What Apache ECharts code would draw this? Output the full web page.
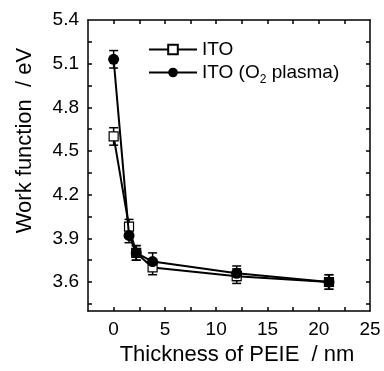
<!DOCTYPE html>
<html>
<head>
<meta charset="utf-8">
<script src="https://cdn.jsdelivr.net/npm/echarts@6/dist/echarts.min.js"></script>
<style>
  html, body { margin: 0; padding: 0; background: #fff; }
  #main { width: 384px; height: 371px; }
</style>
</head>
<body>
<div id="main"></div>
<script>
// data
var thickness = [0, 1.5, 2.2, 3.8, 12, 21];
var itoWF = [4.6, 3.98, 3.8, 3.7, 3.64, 3.6];
var itoErr = [0.06, 0.05, 0.05, 0.05, 0.05, 0.05];
var plasmaWF = [5.13, 3.92, 3.8, 3.74, 3.66, 3.6];
var plasmaErr = [0.06, 0.05, 0.05, 0.06, 0.05, 0.05];

var xTickLabels = [0, 5, 10, 15, 20, 25];
var xTicks = [0, 2.5, 5, 7.5, 10, 12.5, 15, 17.5, 20, 22.5];
var yTickLabels = [3.6, 3.9, 4.2, 4.5, 4.8, 5.1, 5.4];
var yTicks = [3.45, 3.6, 3.75, 3.9, 4.05, 4.2, 4.35, 4.5, 4.65, 4.8, 4.95, 5.1, 5.25];

var FONT = "Liberation Sans";

function pairs(ys) {
  return thickness.map(function (x, i) { return [x, ys[i]]; });
}
function errData(ys, es) {
  return thickness.map(function (x, i) { return [x, ys[i] - es[i], ys[i] + es[i]]; });
}
// 误差棒
function errorBars(api) {
  var lo = api.coord([api.value(0), api.value(1)]);
  var hi = api.coord([api.value(0), api.value(2)]);
  var w = 4.5;
  var st = { stroke: "#000", lineWidth: 1.5 };
  return {
    type: "group",
    children: [
      { type: "line", shape: { x1: lo[0], y1: lo[1], x2: hi[0], y2: hi[1] }, style: st },
      { type: "line", shape: { x1: lo[0] - w, y1: lo[1], x2: lo[0] + w, y2: lo[1] }, style: st },
      { type: "line", shape: { x1: hi[0] - w, y1: hi[1], x2: hi[0] + w, y2: hi[1] }, style: st }
    ]
  };
}

var frameLine = { show: true, onZero: false, lineStyle: { color: "#000", width: 1.5 } };
var tickStyle = { color: "#000", width: 1.5 };

var myChart = echarts.init(document.getElementById("main"));
var option = {
  animation: false,
  backgroundColor: "#fff",
  textStyle: { fontFamily: FONT },
  grid: { left: 88, top: 20, right: 14, bottom: 56 },
  legend: {
    data: ["ITO", "ITO (O2 plasma)"],
    orient: "vertical",
    left: 143,
    top: 35,
    itemWidth: 48,
    itemHeight: 12,
    itemGap: 4,
    textStyle: {
      fontFamily: FONT, fontSize: 19, color: "#000",
      rich: { sub: { fontFamily: FONT, fontSize: 12, color: "#000", padding: [14, 0, 0, 0] } }
    },
    formatter: function (name) {
      return name === "ITO (O2 plasma)" ? "ITO (O{sub|2} plasma)" : name;
    }
  },
  xAxis: [
    {
      type: "value", min: -2.5, max: 25,
      name: "Thickness of PEIE  / nm", nameLocation: "middle", nameGap: 23,
      nameTextStyle: { fontFamily: FONT, fontSize: 22, color: "#000", padding: [0, 0, 0, 16] },
      axisLine: frameLine,
      axisTick: { inside: true, length: 4, customValues: xTicks, lineStyle: tickStyle },
      axisLabel: { customValues: xTickLabels, margin: 9, fontFamily: FONT, fontSize: 19, color: "#000" },
      splitLine: { show: false }
    },
    {
      type: "value", min: -2.5, max: 25, position: "top",
      axisLine: frameLine,
      axisTick: { inside: true, length: 4, customValues: xTicks, lineStyle: tickStyle },
      axisLabel: { show: false },
      splitLine: { show: false }
    }
  ],
  yAxis: [
    {
      type: "value", min: 3.4, max: 5.4,
      name: "Work function  / eV", nameLocation: "middle", nameGap: 52,
      nameTextStyle: { fontFamily: FONT, fontSize: 22, color: "#000", padding: [0, 0, 0, 50] },
      axisLine: frameLine,
      axisTick: { inside: true, length: 4, customValues: yTicks, lineStyle: tickStyle },
      axisLabel: {
        customValues: yTickLabels, margin: 9, fontFamily: FONT, fontSize: 19, color: "#000",
        formatter: function (v) { return v.toFixed(1); }
      },
      splitLine: { show: false }
    },
    {
      type: "value", min: 3.4, max: 5.4, position: "right",
      axisLine: frameLine,
      axisTick: { inside: true, length: 4, customValues: yTicks, lineStyle: tickStyle },
      axisLabel: { show: false },
      splitLine: { show: false }
    }
  ],
  series: [
    {
      name: "ITO-err", type: "custom", renderItem: function (p, api) { return errorBars(api); },
      data: errData(itoWF, itoErr), z: 3
    },
    {
      name: "ITO (O2 plasma)-err", type: "custom", renderItem: function (p, api) { return errorBars(api); },
      data: errData(plasmaWF, plasmaErr), z: 3
    },
    {
      name: "ITO", type: "line", data: pairs(itoWF),
      symbol: "rect", symbolSize: 9, z: 4,
      lineStyle: { color: "#000", width: 2 },
      itemStyle: { color: "#fff", borderColor: "#000", borderWidth: 1.2 }
    },
    {
      name: "ITO (O2 plasma)", type: "line", data: pairs(plasmaWF),
      symbol: "circle", symbolSize: 11, z: 5,
      lineStyle: { color: "#000", width: 2 },
      itemStyle: { color: "#000", borderColor: "#000", borderWidth: 0 }
    }
  ]
};
myChart.setOption(option);
</script>
</body>
</html>
